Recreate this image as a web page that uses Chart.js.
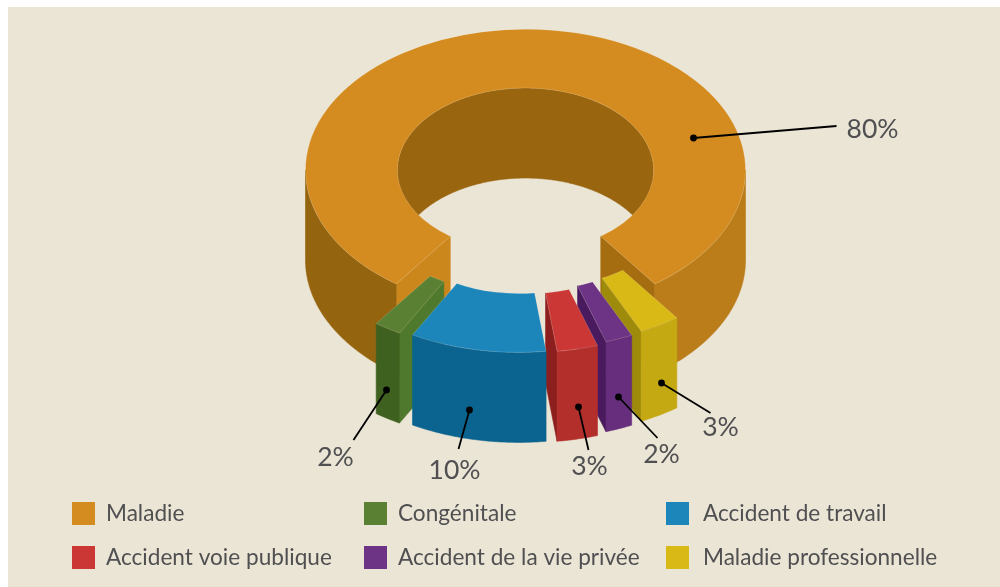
<!DOCTYPE html>
<html lang="fr">
<head>
<meta charset="utf-8">
<style>
html,body{margin:0;padding:0;background:#fff;width:1000px;height:587px;overflow:hidden}
#bg{position:absolute;left:8px;top:7px;right:0;bottom:0;background:#ebe5d5}
canvas{position:absolute;left:0;top:0}
</style>
<script src="https://cdn.jsdelivr.net/npm/chart.js@4"></script>
</head>
<body>
<div id="bg"></div>
<canvas id="c" width="1000" height="587"></canvas>
<script>
const categories = ['Maladie','Congénitale','Accident de travail','Accident voie publique','Accident de la vie privée','Maladie professionnelle'];
const values = [80,2,10,3,2,3];

const topColors  = ['#d48c20','#5a8133','#1c86bb','#cb3735','#6d3485','#d8b916'];
const wallColors = [['#95640f','#bb7d1a'],['#3f6120'],['#0b648f'],['#b32f2c'],['#662e7c'],['#c5a912']];
const sideColors = [['#cc871c','#a56d10'],['#4f7a2e'],['#0b648f'],['#8c1f1d'],['#4a1a5e'],['#9e8b0c']];
const holeColor = '#99650f';

const TILT = 0.64, DEPTH = 90;
// how far each slice is pulled out of the ring: screen x, ring-plane y
const explode = [[0,0],[-20,62],[-7,65],[4,65],[12.5,59],[22,53]];
// callouts, relative to the ring centre: dot, line end, label centre
const callouts = [
  {dot:[168,-32], end:[311,-44], label:[347,-41]},
  {dot:[-139,220], end:[-172,270], label:[-190,287]},
  {dot:[-56,240], end:[-67,279], label:[-71,300]},
  {dot:[53,237], end:[63,280], label:[64,296]},
  {dot:[93,227], end:[132,268], label:[136,284]},
  {dot:[136,213], end:[185,243], label:[195,257]}
];
const legendCols = [[72,106],[364,398],[666,703]];
const legendRows = [502,546];
const textColor = '#505052';
const TEXT_FONT = 'Lato, "Open Sans", sans-serif';

function poly(ctx, pts, fill, stroke){
  ctx.beginPath();
  pts.forEach((p,i)=> i?ctx.lineTo(p.x,p.y):ctx.moveTo(p.x,p.y));
  ctx.closePath();
  ctx.fillStyle = fill; ctx.strokeStyle = stroke || fill; ctx.lineWidth = 0.6;
  ctx.fill(); ctx.stroke();
}

const ring3d = {
  id:'ring3d',
  beforeDatasetsDraw(chart){
    const ctx = chart.ctx;
    const arcs = chart.getDatasetMeta(0).data.map((el,i)=>({el,i}));
    const midOf = a => (a.el.startAngle+a.el.endAngle)/2;
    arcs.sort((a,b)=>Math.sin(midOf(a))-Math.sin(midOf(b)));
    arcs.forEach(({el,i})=>{
      const sx = explode[i][0], sy = explode[i][1]*TILT;
      const at = (r,t,z=0)=>({x:el.x+sx-r*Math.cos(t), y:el.y+sy+TILT*r*Math.sin(t)+z});
      const arcPts = (r,a,b,z=0)=>{
        const n = Math.max(2,Math.ceil(Math.abs(b-a)/0.01)), out=[];
        for(let k=0;k<=n;k++) out.push(at(r,a+(b-a)*k/n,z));
        return out;
      };
      const wall = (r,a,b)=>arcPts(r,a,b).concat(arcPts(r,a,b,DEPTH).reverse());
      const {startAngle:a0,endAngle:a1,innerRadius:ri,outerRadius:ro} = el;
      const TAU = Math.PI*2;
      // inner wall: only the far half of the hole faces the viewer
      for(let k=-2;k<=2;k++){
        const a=Math.max(a0,Math.PI+k*TAU), b=Math.min(a1,TAU+k*TAU);
        if(b>a) poly(ctx,wall(ri,a,b),holeColor);
      }
      // end faces, when they turn towards the viewer
      [[a0,0.02],[a1,-0.02]].forEach(([t,d])=>{
        const p=at(ri,t), q=at(ro,t), c=at((ri+ro)/2,t+d);
        const yLine=p.y+(q.y-p.y)*(c.x-p.x)/(q.x-p.x);
        if(c.y<yLine){
          const cols=sideColors[i];
          const col=cols.length>1?(q.x<el.x?cols[0]:cols[1]):cols[0];
          poly(ctx,[p,q,at(ro,t,DEPTH),at(ri,t,DEPTH)],col);
        }
      });
      // outer wall: only the near half
      for(let k=-2;k<=2;k++){
        const a=Math.max(a0,k*TAU), b=Math.min(a1,Math.PI+k*TAU);
        if(b>a){
          const cols=wallColors[i];
          const col=cols.length>1?(at(ro,(a+b)/2).x<el.x?cols[0]:cols[1]):cols[0];
          poly(ctx,wall(ro,a,b),col);
        }
      }
      // top face: the library's own arc, tilted and mirrored
      ctx.save();
      ctx.translate(el.x+sx,el.y+sy);
      ctx.scale(-1,TILT);
      ctx.translate(-el.x,-el.y);
      el.draw(ctx);
      ctx.restore();
      // faint highlight along the top edge
      const outline=arcPts(ro,a0,a1).concat(arcPts(ri,a0,a1).reverse());
      ctx.beginPath();
      outline.forEach((p,k)=>k?ctx.lineTo(p.x,p.y):ctx.moveTo(p.x,p.y));
      ctx.closePath();
      ctx.strokeStyle='rgba(255,255,255,0.22)';ctx.lineWidth=0.7;ctx.stroke();
    });
    return false;
  },
  afterDraw(chart){
    const ctx = chart.ctx, el = chart.getDatasetMeta(0).data[0];
    ctx.save();
    callouts.forEach((c,i)=>{
      const x=el.x, y=el.y;
      ctx.strokeStyle='#000';ctx.lineWidth=1.8;ctx.fillStyle='#000';
      ctx.beginPath();ctx.moveTo(x+c.dot[0],y+c.dot[1]);ctx.lineTo(x+c.end[0],y+c.end[1]);ctx.stroke();
      ctx.beginPath();ctx.arc(x+c.dot[0],y+c.dot[1],3.4,0,Math.PI*2);ctx.fill();
      ctx.fillStyle=textColor;ctx.font='26.5px '+TEXT_FONT;ctx.textAlign='center';ctx.textBaseline='middle';
      ctx.fillText(values[i]+'%',x+c.label[0],y+c.label[1]);
    });
    ctx.font='22.6px '+TEXT_FONT;ctx.textAlign='left';ctx.textBaseline='middle';
    categories.forEach((name,i)=>{
      const col=legendCols[i%3], row=legendRows[Math.floor(i/3)];
      ctx.fillStyle=topColors[i];ctx.fillRect(col[0],row,23,23);
      ctx.fillStyle=textColor;ctx.fillText(name,col[1],row+11.5);
    });
    ctx.restore();
  }
};

new Chart(document.getElementById('c'),{
  type:'doughnut',
  data:{labels:categories,datasets:[{data:values,backgroundColor:topColors,borderWidth:0}]},
  options:{
    responsive:false,animation:false,
    rotation:-144,circumference:360,radius:220,cutout:'58.2%',
    layout:{padding:{left:51,bottom:247}},
    plugins:{legend:{display:false},tooltip:{enabled:false},title:{display:false}},
    events:[]
  },
  plugins:[ring3d]
});
</script>
</body>
</html>
